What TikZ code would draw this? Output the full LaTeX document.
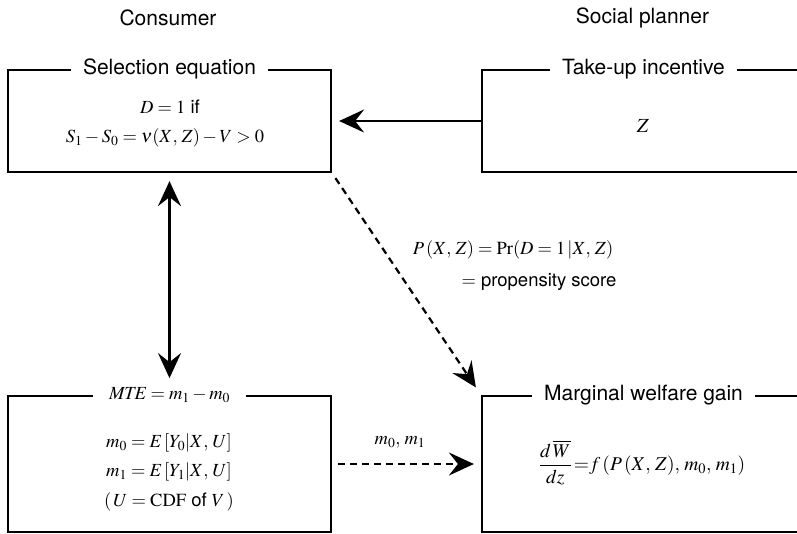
\documentclass[tikz,border=0pt]{standalone}
\usepackage{mathptmx}
\usepackage[no-math]{fontspec}
\setmainfont{TeX Gyre Heros}
\usetikzlibrary{arrows.meta}

\begin{document}
\begin{tikzpicture}[x=1pt,y=-1pt,
  box/.style={draw, line width=2.2pt, inner sep=0pt},
  ttl/.style={fill=white, inner xsep=12pt, inner ysep=2pt, font=\fontsize{21}{25}\selectfont},
  eq/.style={inner sep=1pt, font=\fontsize{18.5}{22}\selectfont},
  tip/.tip={Stealth[length=25pt,width=23pt,inset=9pt]},
  arr/.style={line width=2.2pt, -tip},
  arrtwo/.style={line width=2.2pt, tip-tip},
  darr/.style={arr, dash pattern=on 7pt off 5pt},
]
\useasboundingbox (0,0) rectangle (797,533);
\clip (0,0) rectangle (797,533);

\node[ttl, fill=none] (cons) at (168,18) {Consumer};
\node[ttl, fill=none] (plan) at (642.5,18) {Social planner};

\node[box, minimum width=323pt, minimum height=102pt] (sel) at (169.5,121) {};
\node[box, minimum width=323pt, minimum height=102pt] (take) at (643.5,121) {};
\node[box, minimum width=323pt, minimum height=136pt] (mte) at (169.5,464) {};
\node[box, minimum width=323pt, minimum height=136pt] (mwg) at (643.5,464) {};

\node[ttl] (selT) at (sel.north) {Selection equation};
\node[ttl] (takeT) at (take.north) {Take-up incentive};
\node[ttl, inner xsep=16pt, font=\fontsize{18.5}{22}\selectfont] (mteT) at (mte.north) {$\mathit{MTE}=m_1-m_0$};
\node[ttl] (mwgT) at (mwg.north) {Marginal welfare gain};

\node[eq] (d1) at (170,107) {$D=1$ if};
\node[eq] (s1) at (165,138) {$S_1-S_0=\nu(X,\,Z)-V>0$};
\node[eq, font=\fontsize{20}{24}\selectfont] (z) at (643,126) {$Z$};
\node[eq] (m0) at (169,443) {$m_0=E\,[Y_0|X,\,U]$};
\node[eq] (m1) at (169,472) {$m_1=E\,[Y_1|X,\,U]$};
\node[eq] (cdf) at (169,502) {$(\,U=\mathrm{CDF}$ of $V\,)$};
\node[eq, font=\fontsize{19.5}{23}\selectfont] (dw) at (642,463) {$\displaystyle\frac{d\,\overline{W}}{dz}\,{=}f\,(P\,(X,\,Z),\,m_0,\,m_1)$};
\node[eq] (p1) at (513,250) {$P\,(X,\,Z)=\Pr(D=1\,|X,\,Z)$};
\node[eq] (p2) at (539,282) {$=$ propensity score};
\node[eq] (mm) at (400,442) {$m_0,\,m_1$};

\draw[arr, shorten >=7pt] (take.west) -- (sel.east);
\draw[arrtwo, shorten <=8pt, shorten >=7pt] (sel.south) -- (mteT.north);
\draw[darr, shorten <=6pt, shorten >=9pt] (sel.south east) -- (mwg.north west);
\draw[darr, shorten <=6pt, shorten >=7pt] (mte.east) -- (mwg.west);
\end{tikzpicture}
\end{document}
